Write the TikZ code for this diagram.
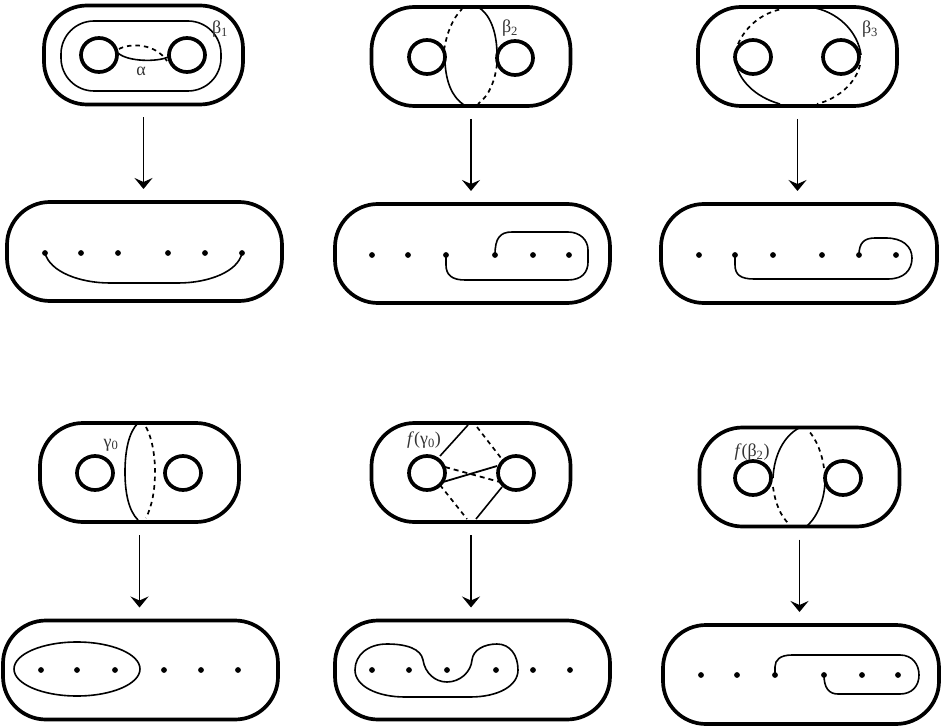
\documentclass[tikz,border=0pt]{standalone}
\usepackage{fontspec}
\setmainfont{Liberation Serif}
\usetikzlibrary{arrows.meta,shapes.geometric}
\tikzset{
  surf/.style={draw=black,line width=3.7pt,rounded corners=43pt,minimum width=#1,minimum height=99pt,inner sep=0pt,outer sep=0pt},
  surf/.default=199pt,
  hole/.style={draw=black,line width=3.7pt,ellipse,minimum width=36pt,minimum height=34pt,inner sep=0pt,outer sep=0pt},
  pt/.style={fill=black,circle,minimum size=5.8pt,inner sep=0pt,outer sep=0pt},
  curvesolid/.style={line width=1.6pt,black},
  curvedash/.style={line width=1.7pt,black,dash pattern=on 4.5pt off 4pt},
  crossdash/.style={line width=1.8pt,black,dash pattern=on 5pt off 4pt},
  mapto/.style={line width=1.6pt,black,shorten <=13pt,shorten >=13pt,-{Stealth[length=11pt,width=18pt,inset=4pt]}},
  lab/.style={font=\fontsize{18}{19}\selectfont,text=black!80,inner sep=0pt}
}
\newcommand{\pdots}[3]{\foreach \x [count=\i] in {#3} \node[pt] (#1-\i) at (\x,#2) {};}
\begin{document}
\begin{tikzpicture}[x=1pt,y=-1pt]
\useasboundingbox (0,0) rectangle (944,727);
% top surfaces
\node[surf] (t1) at (143.5,55) {};
\node[surf] (t2) at (471,56.5) {};
\node[surf] (t3) at (797.5,56.5) {};
\node[surf] (t4) at (139.5,472.5) {};
\node[surf] (t5) at (471,472.5) {};
\node[surf=200pt] (t6) at (799.5,477) {};
% bottom surfaces
\node[surf=275pt] (b1) at (144.5,251.5) {};
\node[surf=275pt] (b2) at (472.5,253.5) {};
\node[surf=276pt] (b3) at (799,253.5) {};
\node[surf=275pt] (b4) at (140.5,670) {};
\node[surf=275pt] (b5) at (472.5,670) {};
\node[surf=276pt] (b6) at (801,674.5) {};
% arrows
\foreach \n in {1,...,6} \draw[mapto] (t\n.south) -- (t\n.south |- b\n.north);
% holes
\node[hole] (h1a) at (99,55) {};   \node[hole] (h1b) at (187,55) {};
\node[hole] (h2a) at (427,57) {};  \node[hole] (h2b) at (515,58) {};
\node[hole] (h3a) at (753,57) {};  \node[hole] (h3b) at (841,57) {};
\node[hole] (h4a) at (95,473) {};  \node[hole] (h4b) at (183,473) {};
\node[hole] (h5a) at (427,473) {}; \node[hole] (h5b) at (516,473) {};
\node[hole] (h6a) at (753,478) {}; \node[hole] (h6b) at (843,478) {};
% points
\pdots{d1}{253}{45,81,118,168,205,242}
\pdots{d2}{255}{372,408,446,495,533,569}
\pdots{d3}{255}{699,735,773,822,859,896}
\pdots{d4}{670}{41,77,115,164,201,238}
\pdots{d5}{670}{372,409,447,496,533,570}
\pdots{d6}{675}{701,737,775,824,862,898}
% panel 1
\node[draw=black,line width=1.6pt,rounded corners=33pt,minimum width=160pt,minimum height=70pt,inner sep=0pt,outer sep=0pt] (beta1) at (141,56) {};
\draw[curvesolid] (h1a.east) ++(1,-2) .. controls (128,62) and (158,62) .. ([xshift=-1pt,yshift=-2pt]h1b.west);
\draw[curvedash] (h1a.east) ++(2,-6) .. controls (130,43) and (155,43) .. ([xshift=-2pt,yshift=-6pt]h1b.west);
\draw[curvesolid] (d1-1.center) .. controls (50,272) and (80,283) .. (110,283) -- (178,283) .. controls (208,283) and (238,272) .. (d1-6.center);
% panel 2
\draw[curvesolid] (478,7) .. controls (490,14) and (497,32) .. (497,55);
\draw[curvesolid] (445,62) .. controls (446,82) and (452,97) .. (464,105);
\draw[curvedash] (444,50) .. controls (447,32) and (453,18) .. (462,9);
\draw[curvedash] (497,64) .. controls (495,80) and (490,95) .. (478,104);
\draw[curvesolid] (d2-3.center) -- (446,265) .. controls (446,275) and (452,280) .. (465,280) -- (568,280) .. controls (582,280) and (588,272) .. (588,262) -- (588,250) .. controls (588,240) and (580,232) .. (568,232) -- (512,232) .. controls (500,232) and (495,238) .. (d2-4.center);
% panel 3
\draw[curvesolid] (810,7) .. controls (838,11) and (858,32) .. (861,55);
\draw[curvesolid] (735,60) .. controls (738,80) and (755,97) .. (780,104);
\draw[curvedash] (738,44) .. controls (746,26) and (762,13) .. (782,9);
\draw[curvedash] (860,65) .. controls (856,82) and (840,98) .. (817,104);
\draw[curvesolid] (d3-2.center) -- (735,265) .. controls (735,275) and (741,279) .. (754,279) -- (888,279) .. controls (904,279) and (912,270) .. (912,258) .. controls (912,246) and (902,238) .. (886,238) -- (875,238) .. controls (864,238) and (859,243) .. (d3-5.center);
% panel 4
\draw[curvesolid] (138,423) .. controls (129,432) and (125,450) .. (125,472) .. controls (125,494) and (129,511) .. (138,520);
\draw[curvedash] (146,427) .. controls (152,438) and (155,455) .. (155,472) .. controls (155,490) and (152,506) .. (146,518);
\node[draw=black,line width=1.6pt,ellipse,minimum width=126pt,minimum height=54pt,inner sep=0pt,outer sep=0pt] (g0) at (77,669) {};
% panel 5
\draw[curvesolid] (440,456) -- (468,425);
\draw[curvedash] (477,427) -- (501,458);
\draw[crossdash] (445,467) -- (500,482);
\draw[line width=1.8pt,black] (443,482) -- (497,466);
\draw[curvedash] (440,485) -- (467,519);
\draw[curvesolid] (476,519) -- (502,487);
\draw[curvesolid] (355,670) .. controls (355,655) and (368,644) .. (387,644) .. controls (407,644) and (421,649) .. (423,660) .. controls (425,673) and (435,682) .. (447,682) .. controls (460,682) and (471,672) .. (472,660) .. controls (473,650) and (484,644) .. (497,644) .. controls (510,644) and (518,655) .. (518,670) .. controls (518,686) and (498,697) .. (470,697) -- (405,697) .. controls (377,697) and (355,686) .. (355,670) -- cycle;
% panel 6
\draw[curvesolid] (799,428) .. controls (784,436) and (774,455) .. (773,478);
\draw[curvedash] (773,487) .. controls (775,502) and (780,516) .. (790,525);
\draw[curvesolid] (807,526) .. controls (818,516) and (825,498) .. (825,480);
\draw[curvedash] (824,468) .. controls (822,454) and (817,440) .. (808,430);
\draw[curvesolid] (d6-3.center) -- (775,667) .. controls (775,660) and (780,655) .. (792,655) -- (900,655) .. controls (912,655) and (919,664) .. (919,675) .. controls (919,686) and (912,694) .. (900,694) -- (838,694) .. controls (829,694) and (824,688) .. (d6-4.center);
% labels
\node[lab] (l1) at (220,29) {β\textsubscript{1}};
\node[lab] (l2) at (141,71) {α};
\node[lab] (l3) at (510,28) {β\textsubscript{2}};
\node[lab] (l4) at (870,29) {β\textsubscript{3}};
\node[lab] (l5) at (111,445) {γ\textsubscript{0}};
\node[lab] (l6) at (424,440) {\textit{f}(γ\textsubscript{0})};
\node[lab] (l7) at (752,452) {\textit{f}(β\textsubscript{2})};
\end{tikzpicture}
\end{document}
